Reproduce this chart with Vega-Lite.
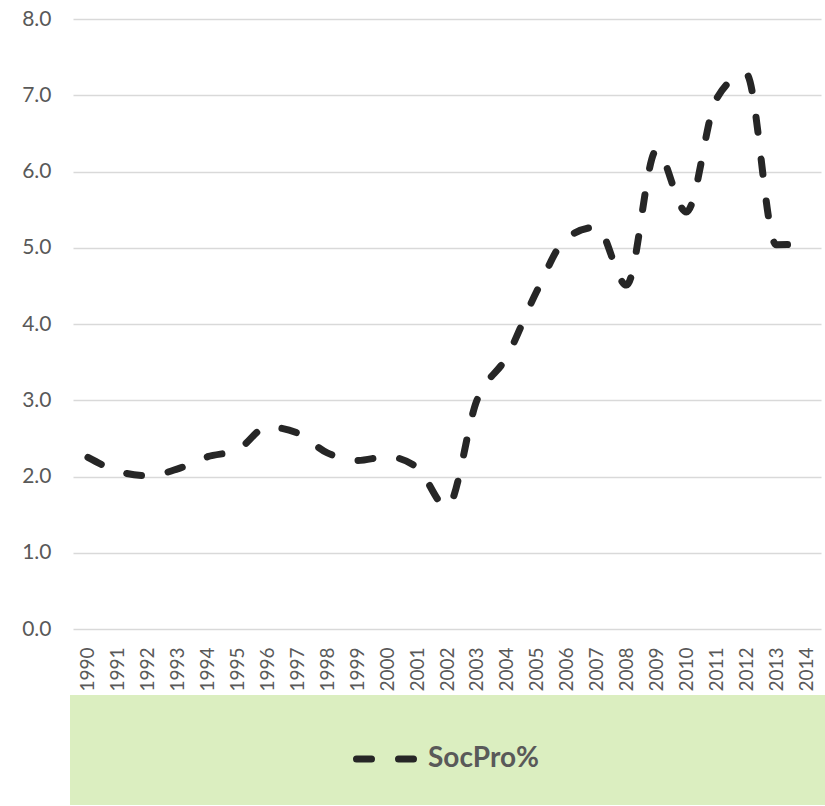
{
  "$schema": "https://vega.github.io/schema/vega-lite/v6.json",
  "width": 748,
  "height": 610,
  "autosize": {"type": "none"},
  "padding": {"left": 73, "top": 19, "right": 4, "bottom": 177},
  "background": "#ffffff",
  "config": {
    "view": {"stroke": null},
    "font": "Lato"
  },
  "data": {
    "values": [
      {"year": "1990", "value": 2.25, "series": "SocPro%"},
      {"year": "1991", "value": 2.07, "series": "SocPro%"},
      {"year": "1992", "value": 2.01, "series": "SocPro%"},
      {"year": "1993", "value": 2.10, "series": "SocPro%"},
      {"year": "1994", "value": 2.26, "series": "SocPro%"},
      {"year": "1995", "value": 2.35, "series": "SocPro%"},
      {"year": "1996", "value": 2.65, "series": "SocPro%"},
      {"year": "1997", "value": 2.57, "series": "SocPro%"},
      {"year": "1998", "value": 2.31, "series": "SocPro%"},
      {"year": "1999", "value": 2.21, "series": "SocPro%"},
      {"year": "2000", "value": 2.26, "series": "SocPro%"},
      {"year": "2001", "value": 2.12, "series": "SocPro%"},
      {"year": "2002", "value": 1.60, "series": "SocPro%"},
      {"year": "2003", "value": 3.00, "series": "SocPro%"},
      {"year": "2004", "value": 3.57, "series": "SocPro%"},
      {"year": "2005", "value": 4.43, "series": "SocPro%"},
      {"year": "2006", "value": 5.13, "series": "SocPro%"},
      {"year": "2007", "value": 5.27, "series": "SocPro%"},
      {"year": "2008", "value": 4.51, "series": "SocPro%"},
      {"year": "2009", "value": 6.28, "series": "SocPro%"},
      {"year": "2010", "value": 5.47, "series": "SocPro%"},
      {"year": "2011", "value": 6.95, "series": "SocPro%"},
      {"year": "2012", "value": 7.28, "series": "SocPro%"},
      {"year": "2013", "value": 5.04, "series": "SocPro%"},
      {"year": "2014", "value": 5.05, "series": "SocPro%"}
    ]
  },
  "mark": {
    "type": "line",
    "strokeWidth": 7,
    "strokeCap": "round",
    "strokeDash": [15, 27],
    "interpolate": "monotone"
  },
  "encoding": {
    "x": {
      "field": "year",
      "type": "ordinal",
      "scale": {"type": "point", "padding": 0.5},
      "axis": {
        "title": null,
        "labelAngle": -90,
        "labelFont": "Lato",
        "labelFontSize": 19,
        "labelColor": "#595959",
        "labelPadding": 18,
        "ticks": false,
        "domain": false,
        "grid": false
      }
    },
    "y": {
      "field": "value",
      "type": "quantitative",
      "scale": {"domain": [0, 8], "nice": false},
      "axis": {
        "title": null,
        "values": [0, 1, 2, 3, 4, 5, 6, 7, 8],
        "format": ".1f",
        "labelFont": "Lato",
        "labelFontSize": 21,
        "labelColor": "#595959",
        "labelPadding": 22,
        "ticks": false,
        "domain": false,
        "grid": true,
        "gridColor": "#d9d9d9",
        "gridWidth": 1.4
      }
    },
    "color": {
      "field": "series",
      "type": "nominal",
      "scale": {"range": ["#262626"]},
      "legend": {
        "title": null,
        "orient": "none",
        "legendX": -3,
        "legendY": 676,
        "fillColor": "#dbeec0",
        "padding": 32,
        "symbolType": "M-1,0H1M14.3,0",
        "symbolSize": 3249,
        "symbolStrokeWidth": 7,
        "symbolDash": [15, 27],
        "symbolOffset": 251,
        "labelOffset": 11,
        "labelFont": "Lato",
        "labelFontSize": 28,
        "labelFontWeight": "bold",
        "labelColor": "#595959",
        "labelLimit": 400,
        "encode": {
          "symbols": {"update": {"strokeCap": {"value": "round"}, "fill": {"value": "transparent"}}}
        }
      }
    }
  }
}
